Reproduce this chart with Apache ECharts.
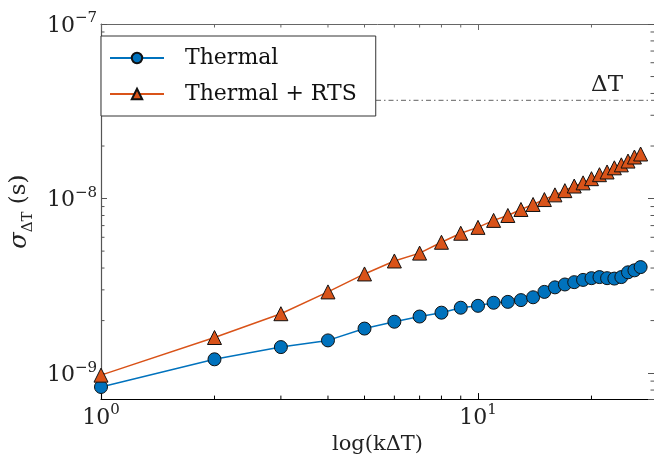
<!DOCTYPE html>
<html><head><meta charset="utf-8">
<script src="https://cdn.jsdelivr.net/npm/echarts@6/dist/echarts.min.js"></script>
<style>html,body{margin:0;padding:0;background:#fff}#c{width:654px;height:460px}</style>
</head><body><div id="c"></div>
<script>
const kValues = [1,2,3,4,5,6,7,8,9,10,11,12,13,14,15,16,17,18,19,20,21,22,23,24,25,26,27];
const thermal = [8.33e-10,1.20e-9,1.41e-9,1.54e-9,1.80e-9,1.97e-9,2.11e-9,2.22e-9,2.37e-9,2.43e-9,2.53e-9,2.56e-9,2.62e-9,2.72e-9,2.92e-9,3.10e-9,3.22e-9,3.32e-9,3.42e-9,3.50e-9,3.55e-9,3.50e-9,3.48e-9,3.55e-9,3.78e-9,3.88e-9,4.05e-9];
const thermalRTS = [9.74e-10,1.60e-9,2.19e-9,2.92e-9,3.70e-9,4.39e-9,4.87e-9,5.62e-9,6.33e-9,6.84e-9,7.5e-9,8.0e-9,8.66e-9,9.25e-9,9.87e-9,1.05e-8,1.11e-8,1.18e-8,1.23e-8,1.30e-8,1.37e-8,1.42e-8,1.50e-8,1.56e-8,1.64e-8,1.73e-8,1.80e-8];
const deltaT = 3.65e-8;
const deltaTLabel = '\u0394T';
const xRange = [1, 29.3];
const yRange = [7.1e-10, 1e-7];
const seriesNames = ['Thermal', 'Thermal + RTS'];

function minorTickValues(lo, hi){
  const out = [];
  for (let e = Math.floor(Math.log10(lo)); e <= Math.ceil(Math.log10(hi)); e++){
    for (let m = 2; m <= 9; m++){
      const v = m * Math.pow(10, e);
      if (v > lo && v < hi) out.push(v);
    }
  }
  return out;
}
const xMinor = minorTickValues(xRange[0], xRange[1]);
const yMinor = minorTickValues(yRange[0], yRange[1]);

const FONT = 'DejaVu Serif';
function powLabel(v){
  const e = Math.round(Math.log10(v));
  if (Math.abs(v - Math.pow(10,e)) / v > 1e-6) return '';
  const s = e < 0 ? '\u2212' + (-e) : String(e);
  return '{b|10}{s|' + s + '}';
}
const richPow = {
  b:{fontFamily:FONT,fontSize:22,color:'#222',lineHeight:26,verticalAlign:'bottom'},
  s:{fontFamily:FONT,fontSize:15,color:'#222',lineHeight:26,verticalAlign:'top'}
};
const chart = echarts.init(document.getElementById('c'), null, {renderer:'canvas'});
const baseX = {type:'log', logBase:10, min:xRange[0], max:xRange[1]};
const baseY = {type:'log', logBase:10, min:yRange[0], max:yRange[1]};
const MINOR = 3.5;
chart.setOption({
  animation:false,
  backgroundColor:'#fff',
  grid:{left:88,right:0,top:24,bottom:58},
  legend:{
    orient:'vertical', left:101, top:36,
    data:seriesNames,
    backgroundColor:'#fff', borderColor:'#333', borderWidth:1,
    padding:[11,19,11,8], itemGap:14, itemWidth:54, itemHeight:13,
    textStyle:{fontFamily:FONT,fontSize:22,color:'#111',padding:[0,0,0,16]},
    z:10
  },
  xAxis:[
    Object.assign({}, baseX, {
      position:'bottom',
      name:'log(k\u0394T)', nameLocation:'middle', nameGap:29,
      nameTextStyle:{fontFamily:FONT,fontSize:21,color:'#222'},
      axisLine:{lineStyle:{color:'#000',width:1.2}},
      axisTick:{inside:true,length:6,lineStyle:{color:'#000'}},
      axisLabel:{formatter:powLabel,rich:richPow,margin:4,showMinLabel:true,showMaxLabel:false,alignMinLabel:'center'},
      splitLine:{show:false}
    }),
    Object.assign({}, baseX, {
      position:'top',
      axisLine:{lineStyle:{color:'#666'}},
      axisTick:{inside:true,length:6,lineStyle:{color:'#666'}},
      axisLabel:{show:false}, splitLine:{show:false}
    })
  ],
  yAxis:[
    Object.assign({}, baseY, {
      position:'left',
      name:'{i|\u03C3}{sub|\u0394T}{a| (s)}', nameLocation:'middle', nameGap:51, nameRotate:90,
      nameTextStyle:{rich:{
        i:{fontFamily:FONT,fontSize:24,fontStyle:'italic',color:'#222',lineHeight:28,verticalAlign:'top'},
        a:{fontFamily:FONT,fontSize:23,color:'#222',lineHeight:28,verticalAlign:'top'},
        sub:{fontFamily:FONT,fontSize:15,color:'#222',lineHeight:28,verticalAlign:'bottom'}
      }},
      axisLine:{lineStyle:{color:'#555',width:1.2}},
      axisTick:{inside:true,length:6,lineStyle:{color:'#555'}},
      axisLabel:{formatter:powLabel,rich:richPow,margin:4,showMinLabel:false,showMaxLabel:true},
      splitLine:{show:false}
    }),
    Object.assign({}, baseY, {
      position:'right',
      axisLine:{lineStyle:{color:'#555'}},
      axisTick:{inside:true,length:6,lineStyle:{color:'#555'}},
      axisLabel:{show:false}, splitLine:{show:false}
    })
  ],
  series:[
    {
      name:'xMinorTicks', type:'custom', silent:true, z:1,
      data:xMinor,
      encode:{x:0},
      renderItem:function(params, api){
        const v = api.value(0);
        const cs = params.coordSys;
        const px = api.coord([v, yRange[0]])[0];
        const b = cs.y + cs.height, t = cs.y;
        return {type:'group', children:[
          {type:'line', shape:{x1:px,y1:b,x2:px,y2:b-MINOR}, style:{stroke:'#000',lineWidth:1}},
          {type:'line', shape:{x1:px,y1:t,x2:px,y2:t+MINOR}, style:{stroke:'#666',lineWidth:1}}
        ]};
      }
    },
    {
      name:'yMinorTicks', type:'custom', silent:true, z:1,
      data:yMinor.map(v=>[xRange[0], v]),
      renderItem:function(params, api){
        const v = api.value(1);
        const cs = params.coordSys;
        const py = api.coord([xRange[0], v])[1];
        const l = cs.x, r = cs.x + cs.width;
        return {type:'group', children:[
          {type:'line', shape:{x1:l,y1:py,x2:l+MINOR,y2:py}, style:{stroke:'#555',lineWidth:1}},
          {type:'line', shape:{x1:r,y1:py,x2:r-MINOR,y2:py}, style:{stroke:'#555',lineWidth:1}}
        ]};
      }
    },
    {
      name:'deltaTLine', type:'line', silent:true, z:2,
      data:[[xRange[0], deltaT], {value:[xRange[1], deltaT], label:{show:true}}],
      symbol:'circle', symbolSize:1, showSymbol:true,
      itemStyle:{color:'rgba(0,0,0,0)'},
      lineStyle:{color:'#808080',type:[5,3,1.5,3],width:1.3},
      label:{show:false, position:'top', offset:[-47,0], distance:3, formatter:deltaTLabel,
        fontFamily:FONT, fontSize:23, color:'#222'}
    },
    {
      name:seriesNames[0], type:'line',
      data:kValues.map((k,i)=>[k,thermal[i]]),
      symbol:'circle', symbolSize:13,
      lineStyle:{color:'#0072BD',width:1.5},
      itemStyle:{color:'#0072BD',borderColor:'#111',borderWidth:1},
      z:3
    },
    {
      name:seriesNames[1], type:'line',
      data:kValues.map((k,i)=>[k,thermalRTS[i]]),
      symbol:'triangle', symbolSize:14,
      lineStyle:{color:'#D95319',width:1.5},
      itemStyle:{color:'#D95319',borderColor:'#111',borderWidth:1},
      z:4
    }
  ]
});
</script></body></html>
